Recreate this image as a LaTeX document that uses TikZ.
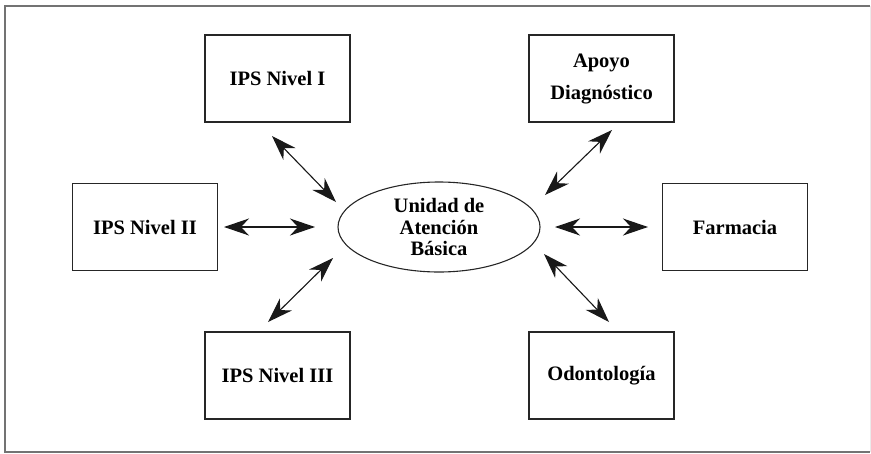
\documentclass[tikz,border=0pt]{standalone}
\usepackage{fontspec}
\setmainfont{Liberation Serif}
\usetikzlibrary{arrows.meta,shapes.geometric}
\tikzset{mytip/.tip={Stealth[length=25pt,width=17pt,inset=8pt]}}
\begin{document}
\begin{tikzpicture}[x=1pt,y=-1pt,
  boxnode/.style={draw=black!85,line width=1.1pt,minimum width=145pt,minimum height=87pt,inner sep=0pt,align=center,font=\fontsize{20.5}{32}\selectfont\bfseries},
  ellnode/.style={draw=black!85,line width=1.1pt,ellipse,minimum width=202pt,minimum height=90pt,inner sep=0pt,align=center,font=\fontsize{20.5}{21.5}\selectfont\bfseries},
  arr/.style={line width=1.1pt,draw=black!90,fill=black!90,mytip-mytip},
  framel/.style={line width=1.2pt,black!55}]
\useasboundingbox (0,0) rectangle (871,453);
\draw[framel] (870,6) -- (5,6) -- (5,452) -- (870,452);
\draw[line width=0.5pt,black!8] (870,6) -- (870,452);
\node[boxnode] (ips1) at (277.5,78.5) {IPS Nivel I};
\node[boxnode] (apoyo) at (601.5,78.5) {Apoyo\\Diagnóstico};
\node[boxnode] (ips2) at (145,227) {IPS Nivel II};
\node[boxnode] (farm) at (735,227) {Farmacia};
\node[boxnode] (ips3) at (277.5,375.5) {IPS Nivel III};
\node[boxnode] (odon) at (601.5,375.5) {Odontología};
\node[ellnode] (uab) at (439,227) {Unidad de\\Atención\\Básica};
\coordinate (a1s) at (272,136); \coordinate (a1e) at (336,202);
\coordinate (a2s) at (612,130); \coordinate (a2e) at (545,195);
\coordinate (a3s) at (224,227); \coordinate (a3e) at (315,227);
\coordinate (a4s) at (648,227); \coordinate (a4e) at (555,227);
\coordinate (a5s) at (268,322); \coordinate (a5e) at (333,258);
\coordinate (a6s) at (609,322); \coordinate (a6e) at (544,254);
\draw[arr] (a1s) -- (a1e);
\draw[arr] (a2s) -- (a2e);
\draw[arr] (a3s) -- (a3e);
\draw[arr] (a4s) -- (a4e);
\draw[arr] (a5s) -- (a5e);
\draw[arr] (a6s) -- (a6e);
\end{tikzpicture}
\end{document}
